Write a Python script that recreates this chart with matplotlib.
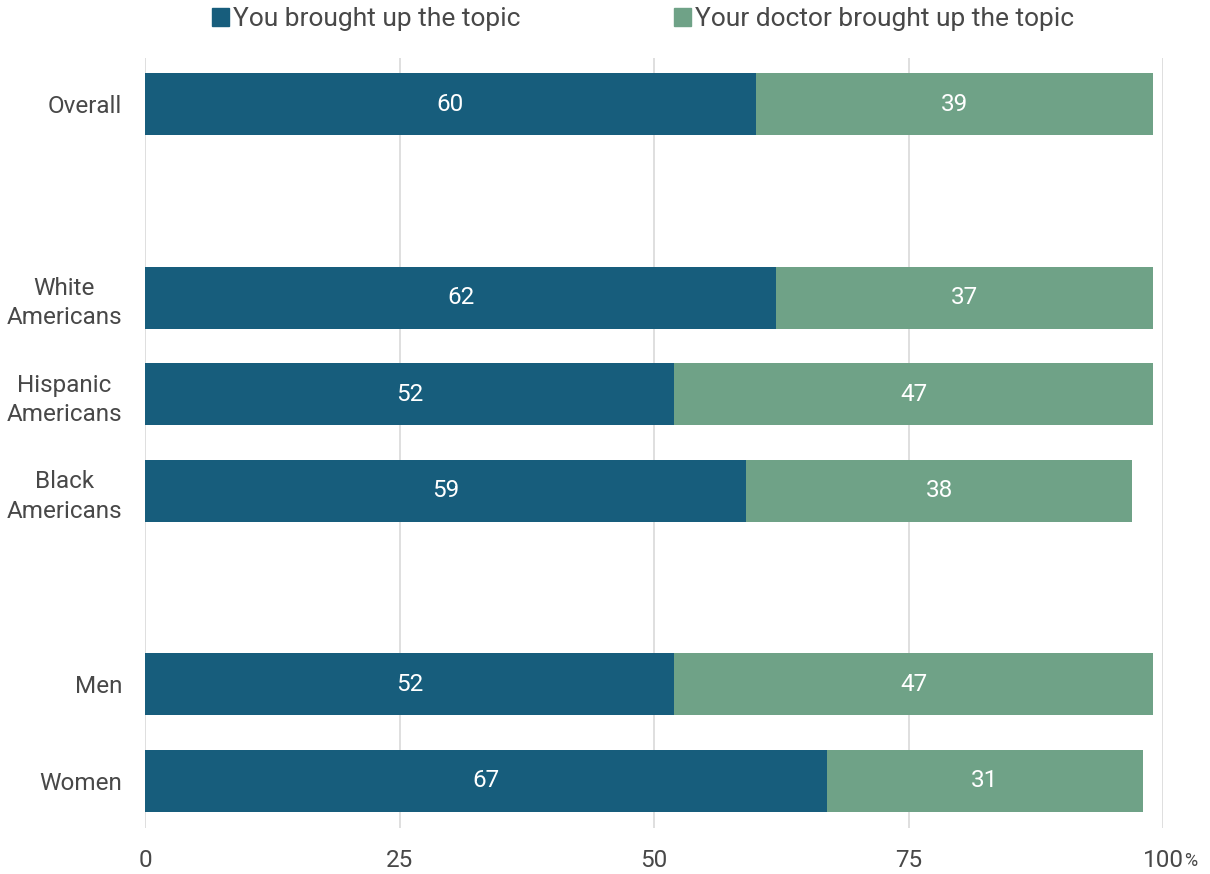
import numpy as np
import matplotlib.pyplot as plt
from matplotlib.patches import Patch
from matplotlib.transforms import blended_transform_factory

plt.rcParams['font.family'] = ['Roboto', 'DejaVu Sans']

# ----- data -----
categories = ["Overall", "", "White\nAmericans", "Hispanic\nAmericans", "Black\nAmericans", "", "Men", "Women"]
you_raised = [60, None, 62, 52, 59, None, 52, 67]
doctor_raised = [39, None, 37, 47, 38, None, 47, 31]
series_names = ["You brought up the topic", "Your doctor brought up the topic"]
xticks = [0, 25, 50, 75, 100]

c_you = "#175d7c"
c_doc = "#6fa287"
c_text = "#484848"
c_grid = "#d9d9d9"
fs = 17.5

fig = plt.figure(figsize=(12.1, 8.74), dpi=100)
ax = fig.add_axes([145 / 1210, 1 - 828 / 874, (1163 - 145) / 1210, (828 - 58) / 874])

ypos = np.arange(len(categories))
bar_h = 0.64
for y, a, b in zip(ypos, you_raised, doctor_raised):
    if a is None:
        continue
    ax.barh(y, a, height=bar_h, color=c_you, zorder=3)
    ax.barh(y, b, left=a, height=bar_h, color=c_doc, zorder=3)
    ax.text(a / 2, y, str(a), ha='center', va='center', color='white', fontsize=fs, zorder=4)
    ax.text(a + b / 2, y, str(b), ha='center', va='center', color='white', fontsize=fs, zorder=4)

ax.set_xlim(0, 100)
ax.set_ylim(7.49, -0.48)
ax.set_yticks([y for y, c in zip(ypos, categories) if c])
ax.set_yticklabels([c for c in categories if c], fontsize=fs, color=c_text,
                   multialignment='center', linespacing=1.35)
ax.set_xticks(xticks)
ax.set_xticklabels([str(t) for t in xticks], fontsize=fs, color=c_text)
ax.tick_params(axis='y', length=0, pad=16.5)
ax.tick_params(axis='x', length=0, pad=15)
ax.grid(axis='x', color=c_grid, linewidth=1.2, zorder=0)
for s in ax.spines.values():
    s.set_visible(False)

# smaller percent sign after the last tick label
tr = blended_transform_factory(ax.transData, ax.transAxes)
ax.annotate("%", xy=(100, 0), xycoords=tr, xytext=(15, -27.5), textcoords='offset points',
            ha='left', va='baseline', fontsize=13, color=c_text)

handles = [Patch(color=c_you), Patch(color=c_doc)]
fig.legend(handles, series_names, loc='center left', bbox_to_anchor=(212 / 1210, 1 - 19 / 874), ncol=2,
           frameon=False, fontsize=19, handlelength=0.65, handleheight=0.65, handletextpad=0.15,
           columnspacing=5.8, labelcolor=c_text, borderpad=0, borderaxespad=0)

fig.savefig("out.png", dpi=100)
